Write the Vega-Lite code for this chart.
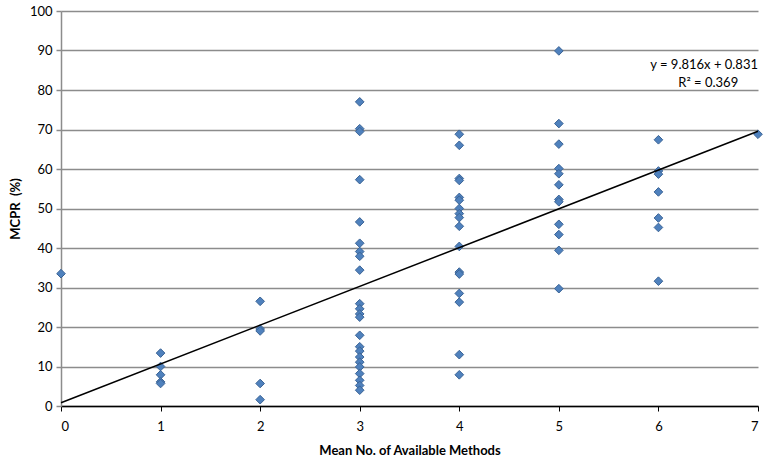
{
  "$schema": "https://vega.github.io/schema/vega-lite/v6.json",
  "width": 697,
  "height": 395,
  "autosize": "none",
  "padding": {"left": 61, "top": 11, "right": 8, "bottom": 59},
  "background": "white",
  "config": {
    "font": "Lato",
    "view": {"stroke": null},
    "axis": {"labelFont": "Lato", "titleFont": "Lato", "labelColor": "#000", "titleColor": "#000"}
  },
  "datasets": {
    "pts": [
      {"methods": 0, "mcpr": 33.5},
      {"methods": 1, "mcpr": 13.4}, {"methods": 1, "mcpr": 10.0}, {"methods": 1, "mcpr": 7.9}, {"methods": 1, "mcpr": 6.1}, {"methods": 1, "mcpr": 5.7},
      {"methods": 2, "mcpr": 26.5}, {"methods": 2, "mcpr": 19.5}, {"methods": 2, "mcpr": 19.0}, {"methods": 2, "mcpr": 5.7}, {"methods": 2, "mcpr": 1.6},
      {"methods": 3, "mcpr": 77.0}, {"methods": 3, "mcpr": 70.2}, {"methods": 3, "mcpr": 69.5}, {"methods": 3, "mcpr": 57.3}, {"methods": 3, "mcpr": 46.6},
      {"methods": 3, "mcpr": 41.2}, {"methods": 3, "mcpr": 39.1}, {"methods": 3, "mcpr": 37.9}, {"methods": 3, "mcpr": 34.4},
      {"methods": 3, "mcpr": 25.9}, {"methods": 3, "mcpr": 24.6}, {"methods": 3, "mcpr": 23.3}, {"methods": 3, "mcpr": 22.5},
      {"methods": 3, "mcpr": 17.9}, {"methods": 3, "mcpr": 15.0}, {"methods": 3, "mcpr": 13.9}, {"methods": 3, "mcpr": 12.4},
      {"methods": 3, "mcpr": 11.1}, {"methods": 3, "mcpr": 9.9}, {"methods": 3, "mcpr": 8.2}, {"methods": 3, "mcpr": 6.5}, {"methods": 3, "mcpr": 5.2}, {"methods": 3, "mcpr": 4.0},
      {"methods": 4, "mcpr": 68.8}, {"methods": 4, "mcpr": 66.0}, {"methods": 4, "mcpr": 57.6}, {"methods": 4, "mcpr": 57.1}, {"methods": 4, "mcpr": 52.8}, {"methods": 4, "mcpr": 52.1},
      {"methods": 4, "mcpr": 50.0}, {"methods": 4, "mcpr": 48.7}, {"methods": 4, "mcpr": 47.7}, {"methods": 4, "mcpr": 45.5}, {"methods": 4, "mcpr": 40.4},
      {"methods": 4, "mcpr": 33.9}, {"methods": 4, "mcpr": 33.4}, {"methods": 4, "mcpr": 28.5}, {"methods": 4, "mcpr": 26.3}, {"methods": 4, "mcpr": 13.0}, {"methods": 4, "mcpr": 7.9},
      {"methods": 5, "mcpr": 89.9}, {"methods": 5, "mcpr": 71.5}, {"methods": 5, "mcpr": 66.3}, {"methods": 5, "mcpr": 60.1}, {"methods": 5, "mcpr": 58.8},
      {"methods": 5, "mcpr": 56.0}, {"methods": 5, "mcpr": 52.3}, {"methods": 5, "mcpr": 51.7}, {"methods": 5, "mcpr": 46.0}, {"methods": 5, "mcpr": 43.4},
      {"methods": 5, "mcpr": 39.4}, {"methods": 5, "mcpr": 29.7},
      {"methods": 6, "mcpr": 67.4}, {"methods": 6, "mcpr": 59.5}, {"methods": 6, "mcpr": 58.7}, {"methods": 6, "mcpr": 54.2},
      {"methods": 6, "mcpr": 47.6}, {"methods": 6, "mcpr": 45.2}, {"methods": 6, "mcpr": 31.6},
      {"methods": 7, "mcpr": 68.8}
    ],
    "trend": [
      {"methods": 0, "mcpr": 0.831},
      {"methods": 7, "mcpr": 69.543}
    ],
    "eq": [
      {"methods": 7, "mcpr": 86.3, "label": "y = 9.816x + 0.831"}
    ],
    "r2": [
      {"methods": 6.5, "mcpr": 81.7, "label": "R² = 0.369"}
    ]
  },
  "encoding": {
    "x": {
      "field": "methods", "type": "quantitative",
      "scale": {"domain": [0, 7], "nice": false, "zero": false},
      "axis": {
        "title": "Mean No. of Available Methods", "titleFontSize": 13, "titleFontWeight": "bold", "titlePadding": 11,
        "values": [0, 1, 2, 3, 4, 5, 6, 7], "tickCount": 20, "format": "d", "labelFontSize": 13, "labelPadding": 9,
        "grid": false, "domainColor": "#000", "domainWidth": 1.5, "tickColor": "#000", "tickSize": 5, "tickWidth": 1
      }
    },
    "y": {
      "field": "mcpr", "type": "quantitative",
      "scale": {"domain": [0, 100], "nice": false},
      "axis": {
        "title": "MCPR \u00a0(%)", "titleFontSize": 13, "titleFontWeight": "bold", "titlePadding": 7,
        "values": [0, 10, 20, 30, 40, 50, 60, 70, 80, 90, 100], "tickCount": 20, "labelOverlap": false, "labelFontSize": 13, "labelPadding": 4,
        "grid": true, "gridColor": "#8c8c8c", "gridWidth": 1.5,
        "domainColor": "#8c8c8c", "domainWidth": 1.5, "tickColor": "#8c8c8c", "tickSize": 5, "tickWidth": 1.5
      }
    }
  },
  "layer": [
    {
      "data": {"name": "pts"},
      "mark": {"type": "point", "shape": "diamond", "filled": true, "size": 75, "fill": "#4f81bd", "stroke": "#3b6496", "strokeWidth": 1, "opacity": 1}
    },
    {
      "data": {"name": "trend"},
      "mark": {"type": "line", "color": "#000", "strokeWidth": 1.5}
    },
    {
      "data": {"name": "eq"},
      "mark": {"type": "text", "fontSize": 13, "color": "#000", "baseline": "middle", "align": "right"},
      "encoding": {"text": {"field": "label"}}
    },
    {
      "data": {"name": "r2"},
      "mark": {"type": "text", "fontSize": 13, "color": "#000", "baseline": "middle", "align": "center"},
      "encoding": {"text": {"field": "label"}}
    }
  ]
}
